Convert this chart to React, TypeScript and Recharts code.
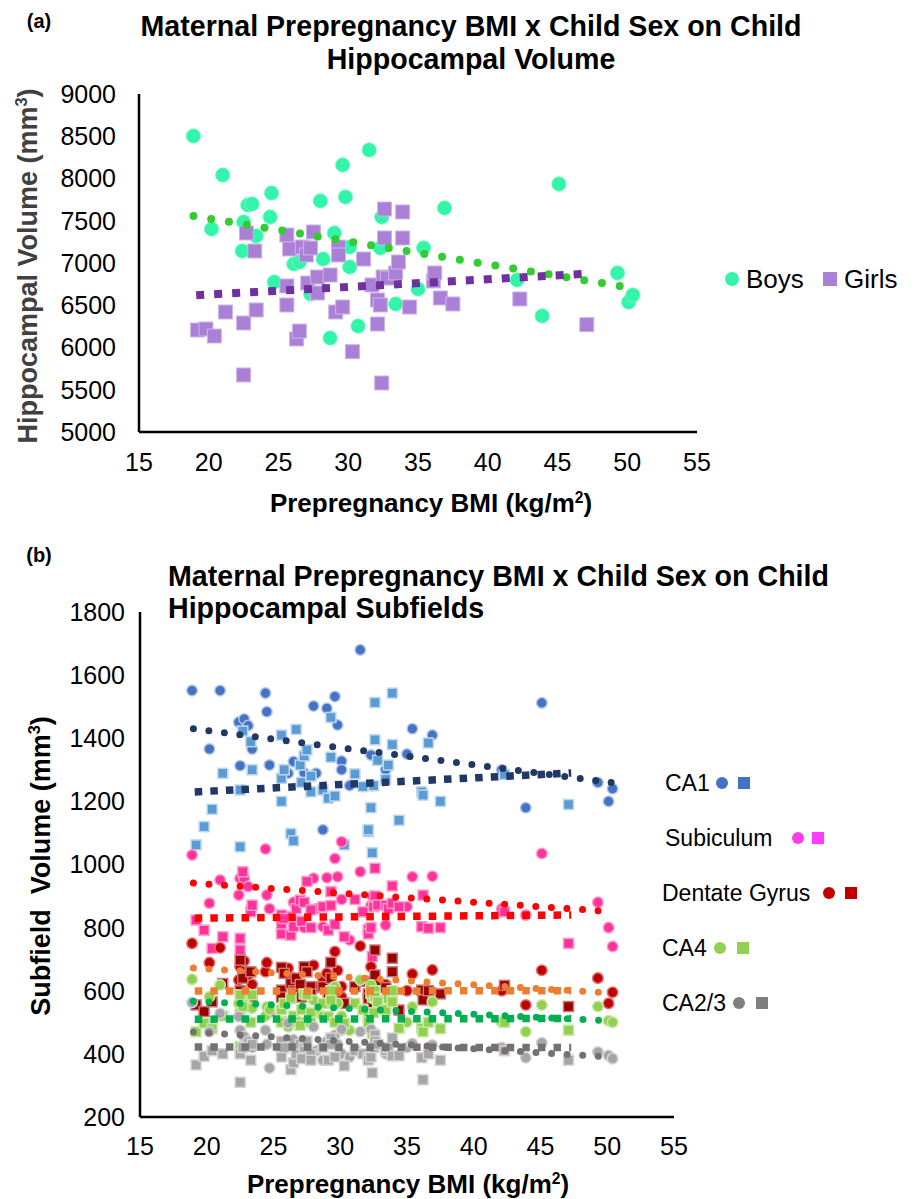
import React from 'react';
import { ScatterChart, Scatter, XAxis, YAxis } from 'recharts';

const FONT = '"Liberation Sans", Arial, Helvetica, sans-serif';

// ---- (a) total hippocampal volume ----
const xTicks = [15, 20, 25, 30, 35, 40, 45, 50, 55];
const topYTicks = [5000, 5500, 6000, 6500, 7000, 7500, 8000, 8500, 9000];
const bottomYTicks = [200, 400, 600, 800, 1000, 1200, 1400, 1600, 1800];

const boysBmi = [18.9, 20.2, 21.0, 22.4, 22.5, 22.8, 23.1, 23.4, 24.4, 24.5, 24.7, 26.1, 26.5, 27.3, 28.0, 28.2, 28.7, 29.0, 29.6, 29.8, 30.1, 30.1, 30.7, 31.5, 32.3, 32.4, 33.4, 35.0, 35.4, 36.9, 42.1, 43.9, 45.1, 49.3, 50.1, 50.4];
const boysTotal = [8503, 7402, 8041, 7142, 7485, 7686, 7698, 7320, 7544, 7828, 6775, 6988, 7012, 6633, 7734, 7047, 6112, 7355, 8160, 7781, 7189, 6953, 6254, 8337, 7178, 7544, 6515, 6692, 7178, 7651, 6799, 6373, 7935, 6882, 6538, 6621];

const girlsBmi = [19.2, 19.8, 20.4, 21.2, 22.5, 22.5, 22.7, 23.3, 23.4, 25.6, 25.6, 25.6, 25.8, 26.3, 26.5, 26.7, 27.0, 27.1, 27.3, 27.5, 27.8, 27.8, 28.7, 29.1, 29.3, 29.3, 29.6, 30.3, 31.1, 31.7, 32.1, 32.1, 32.3, 32.4, 32.5, 32.6, 32.6, 32.8, 33.4, 33.6, 33.9, 33.9, 34.4, 36.1, 36.2, 36.6, 37.5, 42.3, 47.1];
const girlsTotal = [6207, 6219, 6136, 6420, 5675, 6290, 7355, 7142, 6444, 7331, 6728, 6503, 7166, 6101, 6195, 7189, 7095, 6763, 7178, 7367, 6834, 6645, 6858, 6420, 7189, 7095, 6479, 5950, 7047, 6740, 6562, 6278, 6503, 5580, 6834, 7639, 7296, 6822, 6882, 7012, 7604, 7296, 6479, 6787, 6882, 6586, 6515, 6574, 6270];

// trendline end points [bmi, volume]
const boysTotalTrend = [[18.9, 7556], [49.9, 6716]];
const girlsTotalTrend = [[19.1, 6618], [47.1, 6872]];

// ---- (b) subfields ----
const boysCA1 = [1551, 1366, 1551, 1451, 1313, 1461, 1440, 1366, 1543, 1484, 1315, 1289, 1326, 1290, 1502, 1289, 1110, 1495, 1532, 1442, 1328, 1300, 1250, 1680, 1347, 1250, 1300, 1350, 1430, 1410, 1300, 1180, 1512, 1260, 1200, 1240];
const boysSub = [1030, 877, 951, 903, 956, 956, 930, 870, 1049, 903, 860, 835, 880, 800, 956, 860, 803, 958, 1019, 961, 1072, 889, 761, 977, 870, 900, 808, 866, 961, 963, 860, 840, 1035, 880, 800, 740];
const boysDG = [750, 689, 736, 634, 676, 694, 650, 620, 660, 689, 534, 671, 640, 600, 681, 610, 640, 655, 724, 664, 613, 580, 560, 742, 676, 630, 620, 600, 653, 666, 600, 555, 665, 640, 560, 595];
const boysCA4 = [636, 581, 618, 560, 534, 570, 590, 545, 520, 549, 540, 486, 510, 500, 570, 530, 520, 560, 613, 560, 475, 520, 475, 634, 618, 576, 540, 500, 549, 565, 500, 470, 555, 550, 505, 500];
const boysCA23 = [563, 470, 528, 518, 475, 455, 440, 420, 475, 430, 355, 497, 445, 420, 486, 410, 380, 440, 460, 430, 478, 400, 390, 470, 478, 420, 400, 420, 433, 428, 420, 388, 435, 406, 395, 385];

const girlsCA1 = [1062, 1120, 1175, 1289, 1056, 1236, 1423, 1389, 1300, 1410, 1273, 1200, 1300, 1098, 1075, 1428, 1315, 1260, 1344, 1363, 1280, 1230, 1236, 1210, 1466, 1340, 1217, 1062, 1287, 1247, 1104, 1110, 1180, 1037, 1250, 1513, 1395, 1330, 1270, 1315, 1543, 1380, 1140, 1230, 1220, 1385, 1200, 1285, 1190];
const girlsSub = [824, 792, 734, 771, 729, 766, 977, 850, 871, 840, 803, 780, 829, 776, 803, 860, 887, 820, 880, 946, 856, 800, 866, 792, 914, 870, 810, 771, 889, 850, 794, 780, 800, 708, 866, 988, 900, 871, 871, 860, 932, 877, 866, 803, 903, 798, 800, 850, 750];
const girlsDG = [555, 534, 565, 623, 697, 600, 640, 660, 581, 674, 602, 580, 655, 623, 600, 640, 620, 580, 676, 660, 613, 590, 613, 592, 690, 640, 600, 560, 613, 630, 590, 576, 600, 550, 618, 729, 650, 618, 610, 576, 703, 660, 539, 602, 571, 600, 590, 617, 550];
const girlsCA4 = [470, 497, 480, 520, 423, 587, 550, 500, 587, 540, 502, 500, 560, 576, 520, 502, 490, 540, 590, 587, 530, 500, 560, 518, 600, 570, 500, 497, 560, 540, 520, 500, 592, 465, 530, 600, 580, 565, 540, 576, 565, 600, 481, 481, 470, 500, 480, 500, 475];
const girlsCA23 = [365, 392, 410, 400, 310, 400, 420, 380, 430, 410, 440, 390, 420, 350, 372, 400, 430, 385, 420, 440, 400, 380, 420, 380, 450, 430, 390, 362, 410, 400, 388, 380, 390, 340, 420, 460, 440, 430, 410, 420, 450, 394, 394, 388, 318, 400, 380, 410, 380];

const ca1BoysTrend = [[19.0, 1430], [50.3, 1260]];
const ca1GirlsTrend = [[19.1, 1230], [47.3, 1290]];
const subBoysTrend = [[19.0, 941], [50.3, 851]];
const subGirlsTrend = [[19.1, 830], [47.3, 840]];
const dgBoysTrend = [[19.0, 672], [50.3, 593]];
const dgGirlsTrend = [[19.1, 599], [47.3, 600]];
const ca4BoysTrend = [[19.0, 567], [50.3, 505]];
const ca4GirlsTrend = [[19.1, 510], [47.3, 512]];
const ca23BoysTrend = [[19.0, 469], [50.3, 390]];
const ca23GirlsTrend = [[19.1, 422], [47.3, 420]];

const toPoints = (xs: number[], ys: number[]) => xs.map((x, i) => ({ x, y: ys[i] }));
const toLine = (seg: number[][]) => seg.map(([x, y]) => ({ x, y }));

const circleShape = (r: number, fill: string, stroke: string, sw: number) => (p: any) => (
  <circle cx={p.cx} cy={p.cy} r={r} fill={fill} stroke={stroke} strokeWidth={sw} />
);
const squareShape = (s: number, fill: string, stroke: string, sw: number) => (p: any) => (
  <rect x={p.cx - s / 2} y={p.cy - s / 2} width={s} height={s} fill={fill} stroke={stroke} strokeWidth={sw} />
);
const noShape = () => <g />;

const roundDots = (color: string, w: number, gap: number) => ({
  stroke: color, strokeWidth: w, strokeDasharray: `0 ${gap}`, strokeLinecap: 'round' as const, fill: 'none',
});
const squareDots = (color: string, w: number, gap: number) => ({
  stroke: color, strokeWidth: w, strokeDasharray: `${w} ${gap - w}`, strokeLinecap: 'butt' as const, fill: 'none',
});

const tickStyle = { fontSize: 25, fill: '#000', fontFamily: FONT };
const axisLine = { stroke: '#000', strokeWidth: 2.5 };

const subfields = [
  { boys: boysCA1, girls: girlsCA1, bt: ca1BoysTrend, gt: ca1GirlsTrend, cFill: '#4472C4', cStroke: '#B4C7E7', sFill: '#5B9BD5', sStroke: '#BDD7EE', trend: '#203864' },
  { boys: boysSub, girls: girlsSub, bt: subBoysTrend, gt: subGirlsTrend, cFill: '#FF3399', cStroke: '#FF9ACB', sFill: '#FF3399', sStroke: '#FF9ACB', trend: '#FF0000' },
  { boys: boysDG, girls: girlsDG, bt: dgBoysTrend, gt: dgGirlsTrend, cFill: '#C00000', cStroke: '#DD7777', sFill: '#990000', sStroke: '#CC7777', trend: '#ED7D31' },
  { boys: boysCA4, girls: girlsCA4, bt: ca4BoysTrend, gt: ca4GirlsTrend, cFill: '#92D050', cStroke: '#C6E7A6', sFill: '#92D050', sStroke: '#C6E7A6', trend: '#00B050' },
  { boys: boysCA23, girls: girlsCA23, bt: ca23BoysTrend, gt: ca23GirlsTrend, cFill: '#A6A6A6', cStroke: '#D3D3D3', sFill: '#A6A6A6', sStroke: '#D3D3D3', trend: '#767171' },
];

const legendRows = [
  { label: 'CA1', left: 665, y: 783, cx: 722, sx: 744, c: '#4472C4', s: '#4472C4' },
  { label: 'Subiculum', left: 665, y: 838, cx: 798, sx: 818, c: '#FF3CE6', s: '#FF3CFF' },
  { label: 'Dentate Gyrus', left: 662, y: 893, cx: 829, sx: 851, c: '#C00000', s: '#C00000' },
  { label: 'CA4', left: 662, y: 948, cx: 720, sx: 743, c: '#92D050', s: '#92D050' },
  { label: 'CA2/3', left: 662, y: 1003, cx: 739, sx: 762, c: '#7F7F7F', s: '#7F7F7F' },
];

const Text: React.FC<{ x: number; y: number; size: number; bold?: boolean; color?: string; rotate?: boolean; anchor?: 'left' | 'center'; children: React.ReactNode }> = ({ x, y, size, bold, color = '#000', rotate, anchor = 'center', children }) => (
  <div
    style={{
      position: 'absolute', left: x, top: y, fontSize: size, fontWeight: bold ? 700 : 400, color,
      lineHeight: 1, whiteSpace: 'pre', fontFamily: FONT,
      transform: `translate(${anchor === 'center' ? '-50%' : '0'}, -50%)${rotate ? ' rotate(-90deg)' : ''}`,
      transformOrigin: anchor === 'center' ? 'center' : 'left center',
    }}
  >
    {children}
  </div>
);

const TopChart = () => (
  <div style={{ position: 'absolute', left: 0, top: 0 }}>
    <ScatterChart width={914} height={520} margin={{ top: 94, right: 217, bottom: 48, left: 69 }}>
      <XAxis type="number" dataKey="x" domain={[15, 55]} ticks={xTicks} interval={0} tickLine={false} axisLine={axisLine} tick={tickStyle} tickMargin={15} height={40} />
      <YAxis type="number" dataKey="y" domain={[5000, 9000]} ticks={topYTicks} interval={0} tickLine={false} axisLine={axisLine} tick={tickStyle} tickMargin={17} width={70} />
      <Scatter data={toPoints(boysBmi, boysTotal)} shape={circleShape(7.2, '#33F5A9', '#7FF8C8', 0.8)} isAnimationActive={false} />
      <Scatter data={toPoints(girlsBmi, girlsTotal)} shape={squareShape(14, '#AA80D6', '#CDB4E8', 1)} isAnimationActive={false} />
      <Scatter data={toLine(boysTotalTrend)} shape={noShape} line={roundDots('#33CC33', 8, 18)} isAnimationActive={false} />
      <Scatter data={toLine(girlsTotalTrend)} shape={noShape} line={squareDots('#7030A0', 8, 18)} isAnimationActive={false} />
    </ScatterChart>
  </div>
);

const BottomChart = () => (
  <div style={{ position: 'absolute', left: 0, top: 560 }}>
    <ScatterChart width={914} height={639} margin={{ top: 52, right: 240, bottom: 42, left: 70 }}>
      <XAxis type="number" dataKey="x" domain={[15, 55]} ticks={xTicks} interval={0} tickLine={false} axisLine={axisLine} tick={tickStyle} tickMargin={14} height={40} />
      <YAxis type="number" dataKey="y" domain={[200, 1800]} ticks={bottomYTicks} interval={0} tickLine={false} axisLine={axisLine} tick={tickStyle} tickMargin={9} width={70} />
      {subfields.flatMap((f, i) => [
        <Scatter key={`b${i}`} data={toPoints(boysBmi, f.boys)} shape={circleShape(5.3, f.cFill, f.cStroke, 1.5)} isAnimationActive={false} />,
        <Scatter key={`g${i}`} data={toPoints(girlsBmi, f.girls)} shape={squareShape(10, f.sFill, f.sStroke, 1.5)} isAnimationActive={false} />,
      ])}
      {subfields.flatMap((f, i) => [
        <Scatter key={`bt${i}`} data={toLine(f.bt)} shape={noShape} line={roundDots(f.trend, 7, 15.6)} isAnimationActive={false} />,
        <Scatter key={`gt${i}`} data={toLine(f.gt)} shape={noShape} line={squareDots(f.trend, 7.5, 15.6)} isAnimationActive={false} />,
      ])}
    </ScatterChart>
  </div>
);

export default function App() {
  return (
    <div style={{ position: 'absolute', left: 0, top: 0, width: 914, height: 1199, background: '#fff', overflow: 'hidden', fontFamily: FONT }}>
      <TopChart />
      <BottomChart />

      <Text x={39} y={21} size={20} bold>(a)</Text>
      <Text x={471} y={26} size={28.6} bold>Maternal Prepregnancy BMI x Child Sex on Child</Text>
      <Text x={471} y={59} size={28.6} bold>Hippocampal Volume</Text>
      <Text x={27} y={266} size={27} bold color="#404040" rotate>
        Hippocampal Volume (mm<sup style={{ fontSize: '0.6em' }}>3</sup>)
      </Text>
      <Text x={431} y={503} size={26} bold>
        Prepregnancy BMI (kg/m<sup style={{ fontSize: '0.6em' }}>2</sup>)
      </Text>

      <div style={{ position: 'absolute', left: 732 - 7.3, top: 279 - 7.3, width: 14.6, height: 14.6, borderRadius: '50%', background: '#33F5A9' }} />
      <Text x={746} y={279} size={26} anchor="left">Boys</Text>
      <div style={{ position: 'absolute', left: 830 - 7.3, top: 279 - 7.3, width: 14.6, height: 14.6, background: '#AA80D6' }} />
      <Text x={844} y={279} size={26} anchor="left">Girls</Text>

      <Text x={39} y={555} size={20} bold>(b)</Text>
      <Text x={168} y={576} size={28.6} bold anchor="left">Maternal Prepregnancy BMI x Child Sex on Child</Text>
      <Text x={168} y={608} size={28.6} bold anchor="left">Hippocampal Subfields</Text>
      <Text x={40} y={866} size={27} bold rotate>
        Subfield  Volume (mm<sup style={{ fontSize: '0.6em' }}>3</sup>)
      </Text>
      <Text x={408} y={1184} size={26} bold>
        Prepregnancy BMI (kg/m<sup style={{ fontSize: '0.6em' }}>2</sup>)
      </Text>

      {legendRows.map((r) => (
        <React.Fragment key={r.label}>
          <Text x={r.left} y={r.y} size={23} anchor="left">{r.label}</Text>
          <div style={{ position: 'absolute', left: r.cx - 6, top: r.y - 6, width: 12, height: 12, borderRadius: '50%', background: r.c }} />
          <div style={{ position: 'absolute', left: r.sx - 6, top: r.y - 6, width: 12, height: 12, background: r.s }} />
        </React.Fragment>
      ))}
    </div>
  );
}
